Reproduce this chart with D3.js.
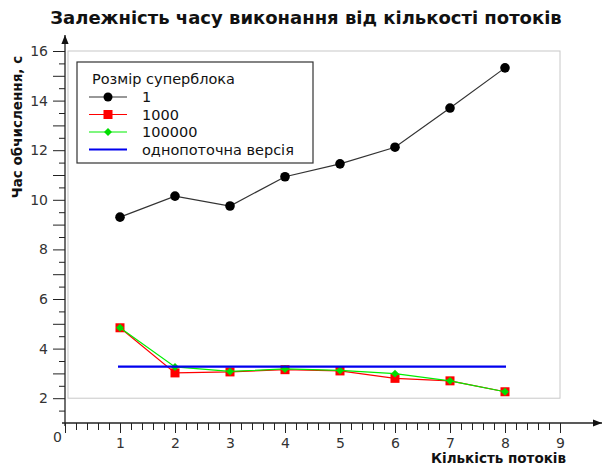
<!DOCTYPE html>
<meta charset="utf-8">
<script src="https://d3js.org/d3.v7.min.js"></script>
<style>
  body{margin:0;background:#fff;}
  text{font-family:"DejaVu Sans",sans-serif;}
</style>
<div id="chart"></div>
<script>
    // data
    const threads=[1,2,3,4,5,6,7,8];
    const block1=[9.3,10.15,9.75,10.93,11.45,12.12,13.7,15.32];
    const block1000=[4.84,3.02,3.06,3.15,3.1,2.8,2.7,2.26];
    const block100000=[4.84,3.26,3.08,3.18,3.12,2.99,2.7,2.26];
    const singleThread=3.27;
    const seriesNames=["1","1000","100000","однопоточна версія"];
    const yTickLabels=[2,4,6,8,10,12,14,16];
    const xTickLabels=[1,2,3,4,5,6,7,8,9];

    const W=603,H=466;
    const svg=d3.select("#chart")
        .append("svg")
            .attr("width",W)
            .attr("height",H);

    const x=d3.scaleLinear().domain([0,9]).range([65,560]);
    const y=d3.scaleLinear().domain([1,16]).range([423,51]);

    // plot frame
    svg.append("rect")
        .attr("x",x(0)+3).attr("y",y(16))
        .attr("width",x(9)-x(0)-3).attr("height",y(2)-y(16))
        .attr("fill","none").attr("stroke","#c8c8c8").attr("stroke-width",1);

    // x axis: minor + major ticks
    const xMinor=d3.range(0,9.001,0.2).filter(v=>Math.abs(v-Math.round(v))>1e-6);
    svg.append("g")
        .attr("transform",`translate(0,${y(1)})`)
        .call(d3.axisBottom(x).tickValues(xMinor).tickSize(7).tickFormat(""))
        .call(g=>g.select(".domain").remove());
    svg.append("g")
        .attr("transform",`translate(0,${y(1)})`)
        .call(d3.axisBottom(x).tickValues([0].concat(xTickLabels)).tickSize(10).tickPadding(5)
            .tickFormat(d=>d===0?"":d))
        .call(g=>g.select(".domain").remove());

    // y axis: minor + major ticks
    const yMinor=d3.range(1.5,16.01,1);
    svg.append("g")
        .attr("transform",`translate(${x(0)},0)`)
        .call(d3.axisLeft(y).tickValues(yMinor).tickSize(6).tickFormat(""))
        .call(g=>g.select(".domain").remove());
    svg.append("g")
        .attr("transform",`translate(${x(0)},0)`)
        .call(d3.axisLeft(y).tickValues(d3.range(2,16.01,1)).tickSize(12).tickPadding(5)
            .tickFormat(d=>yTickLabels.includes(d)?d:""))
        .call(g=>g.select(".domain").remove());

    svg.selectAll(".tick line").attr("stroke","#222");
    svg.selectAll(".tick text")
        .attr("font-size",14).attr("fill","#333")
        .attr("font-family","DejaVu Sans");

    // axis lines with arrows
    svg.append("defs").append("marker")
        .attr("id","arr").attr("viewBox","0 0 10 10")
        .attr("refX",10).attr("refY",5)
        .attr("markerWidth",9).attr("markerHeight",9)
        .attr("markerUnits","userSpaceOnUse")
        .attr("orient","auto")
        .append("path").attr("d","M0,1 L10,5 L0,9 Z").attr("fill","#111");
    svg.append("line")
        .attr("x1",x(0)-3).attr("y1",y(1)).attr("x2",602).attr("y2",y(1))
        .attr("stroke","#222").attr("stroke-width",1.3).attr("marker-end","url(#arr)");
    svg.append("line")
        .attr("x1",x(0)).attr("y1",y(1)+3).attr("x2",x(0)).attr("y2",35)
        .attr("stroke","#222").attr("stroke-width",1.3).attr("marker-end","url(#arr)");

    svg.append("text")
        .attr("x",x(0)-3).attr("y",y(1)+19)
        .attr("text-anchor","end")
        .attr("font-size",14).attr("fill","#333")
        .text("0");

    // titles
    svg.append("text")
        .attr("x",306).attr("y",24)
        .attr("text-anchor","middle")
        .attr("font-size",18).attr("font-weight","bold").attr("fill","#111")
        .text("Залежність часу виконання від кількості потоків");
    svg.append("text")
        .attr("x",566).attr("y",462.5)
        .attr("text-anchor","end")
        .attr("font-size",13.5).attr("font-weight","bold").attr("fill","#111")
        .text("Кількість потоків");
    svg.append("text")
        .attr("transform","translate(22,127) rotate(-90)")
        .attr("text-anchor","middle")
        .attr("font-size",13.5).attr("font-weight","bold").attr("fill","#111")
        .text("Час обчислення, с");

    // series
    const line=d3.line().x((d,i)=>x(threads[i])).y(d=>y(d));

    svg.append("path").datum(block1)
        .attr("d",line).attr("fill","none").attr("stroke","#333").attr("stroke-width",1.2);
    svg.selectAll(".c1").data(block1).join("circle")
        .attr("cx",(d,i)=>x(threads[i])).attr("cy",d=>y(d))
        .attr("r",4.8).attr("fill","#000");

    svg.append("path").datum(block1000)
        .attr("d",line).attr("fill","none").attr("stroke","#ff0000").attr("stroke-width",1.2);
    svg.selectAll(".sq").data(block1000).join("rect")
        .attr("x",(d,i)=>x(threads[i])-4.5).attr("y",d=>y(d)-4.5)
        .attr("width",9).attr("height",9).attr("fill","#ff0000");

    svg.append("path").datum(block100000)
        .attr("d",line).attr("fill","none").attr("stroke","#00ee00").attr("stroke-width",1.2);
    const diamond=d3.symbol().type(d3.symbolDiamond2).size(40);
    svg.selectAll(".dm").data(block100000).join("path")
        .attr("transform",(d,i)=>`translate(${x(threads[i])},${y(d)})`)
        .attr("d",diamond).attr("fill","#00dd00");

    svg.append("line")
        .attr("x1",x(threads[0])-2).attr("x2",x(threads[threads.length-1])+1)
        .attr("y1",y(singleThread)).attr("y2",y(singleThread))
        .attr("stroke","#0000ee").attr("stroke-width",2.2);

    // legend
    const lg=svg.append("g").attr("transform","translate(77,62)");
    lg.append("rect").attr("width",236).attr("height",101)
        .attr("fill","#fff").attr("stroke","#333").attr("stroke-width",1.2);
    lg.append("text").attr("x",15).attr("y",22)
        .attr("font-size",14.5).attr("fill","#111").text("Розмір суперблока");
    const colors=["#333","#ff0000","#00ee00","#0000ee"];
    seriesNames.forEach((name,i)=>{
        const cy=35+i*17.5;
        lg.append("line").attr("x1",12).attr("x2",50).attr("y1",cy).attr("y2",cy)
            .attr("stroke",colors[i]).attr("stroke-width",i===3?2.2:1.2);
        if(i===0) lg.append("circle").attr("cx",31).attr("cy",cy).attr("r",4.5).attr("fill","#000");
        if(i===1) lg.append("rect").attr("x",26.5).attr("y",cy-4.5).attr("width",9).attr("height",9).attr("fill","#ff0000");
        if(i===2) lg.append("path").attr("transform",`translate(31,${cy})`).attr("d",diamond).attr("fill","#00dd00");
        lg.append("text").attr("x",65).attr("y",cy+5)
            .attr("font-size",14.5).attr("fill","#111").text(name);
    });
</script>
